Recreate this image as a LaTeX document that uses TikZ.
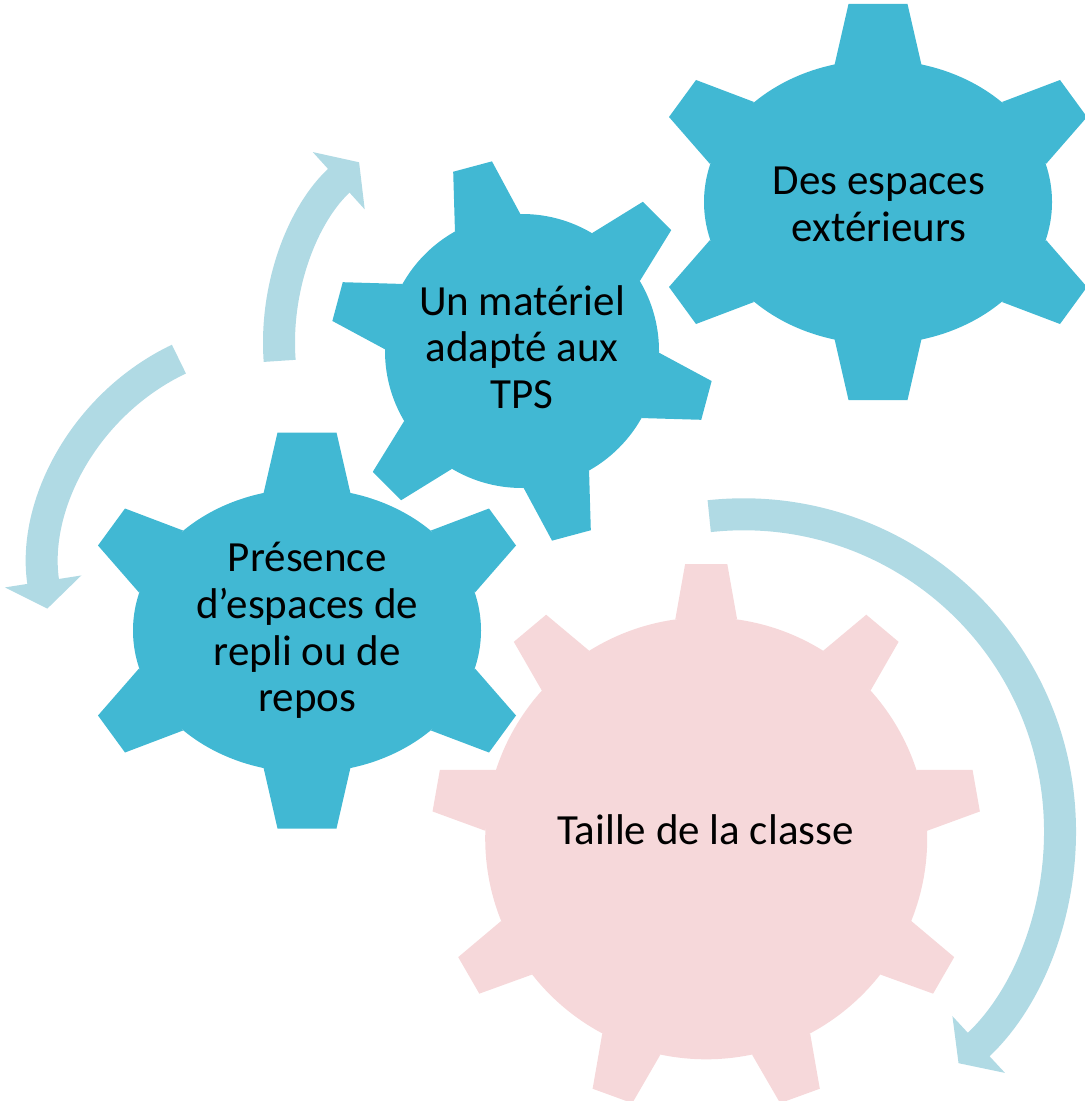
\documentclass[tikz,border=0pt]{standalone}
\usepackage{fontspec}
\setmainfont{Carlito}
\usetikzlibrary{arrows.meta}
\definecolor{gearblue}{RGB}{65,184,211}
\definecolor{gearpink}{RGB}{246,216,218}
\definecolor{arrowblue}{RGB}{176,218,228}
\tikzstyle{geartext}=[align=center, inner sep=0pt, font=\fontsize{21.5}{23.3}\selectfont]
\tikzstyle{roundarrow}=[draw=arrowblue, line width=16pt, -{Triangle[width=38pt,length=13.75pt]}]
\newcommand{\geartext}{\node[geartext]}
% wide six tooth gear, centred at #1
\newcommand{\flatgear}[1]{%
  \begin{scope}[shift={#1}]
    \fill[gearblue] (0,0) ellipse [x radius=174, y radius=142];
    \foreach \s in {1,-1} {
      \fill[gearblue] (\s*-43.5,\s*-137) -- (\s*-29.5,\s*-198) -- (\s*29.5,\s*-198) -- (\s*43.5,\s*-137) -- cycle;
      \fill[gearblue] (\s*-124,-100) -- (\s*-182,-122) -- (\s*-209,-85) -- (\s*-168,-38) -- cycle;
      \fill[gearblue] (\s*-124,100) -- (\s*-182,122) -- (\s*-209,85) -- (\s*-168,38) -- cycle;
    }
  \end{scope}}

\begin{document}
\begin{tikzpicture}[x=0.5pt, y=-0.5pt]
\useasboundingbox (0,0) rectangle (1084,1101);

% round arrows
\coordinate (ca) at (523,343);
\coordinate (cb) at (280.5,572.1);
\coordinate (cc) at (743.4,830.9);
\draw[roundarrow] ([shift={(175.8:244)}]ca) arc[start angle=175.8, end angle=227.8, radius=244];
\draw[roundarrow] ([shift={(244.5:236)}]cb) arc[start angle=244.5, end angle=171.1, radius=236];
\draw[roundarrow] ([shift={(263.8:316.6)}]cc) arc[start angle=263.8, end angle=407.2, radius=316.6];

% gears
\flatgear{(878,202)}
\flatgear{(307,630.5)}
\begin{scope}[shift={(522,351)}]
  \fill[gearblue] (0,0) circle [radius=137];
  \foreach \a in {255,315,...,555}
    \fill[gearblue] (\a-14.3:137) -- (\a-6:192) -- (\a+6:192) -- (\a+14.3:137) -- cycle;
\end{scope}
\begin{scope}[shift={(706.2,838.3)}]
  \fill[gearpink] (0,0) circle [radius=221];
  \foreach \a in {270,310,...,590}
    \fill[gearpink] (\a-8.05:221) -- (\a-4.4:275) -- (\a+4.4:275) -- (\a+8.05:221) -- cycle;
\end{scope}

% labels
\geartext (outdoor) at (878.9,204.5) {Des espaces\\extérieurs};
\geartext (material) at (522,347) {Un matériel\\adapté aux\\TPS};
\geartext (retreat) at (307.2,630.5) {Présence\\d’espaces de\\repli ou de\\repos};
\geartext (size) at (705.5,829.7) {Taille de la classe};
\end{tikzpicture}
\end{document}
